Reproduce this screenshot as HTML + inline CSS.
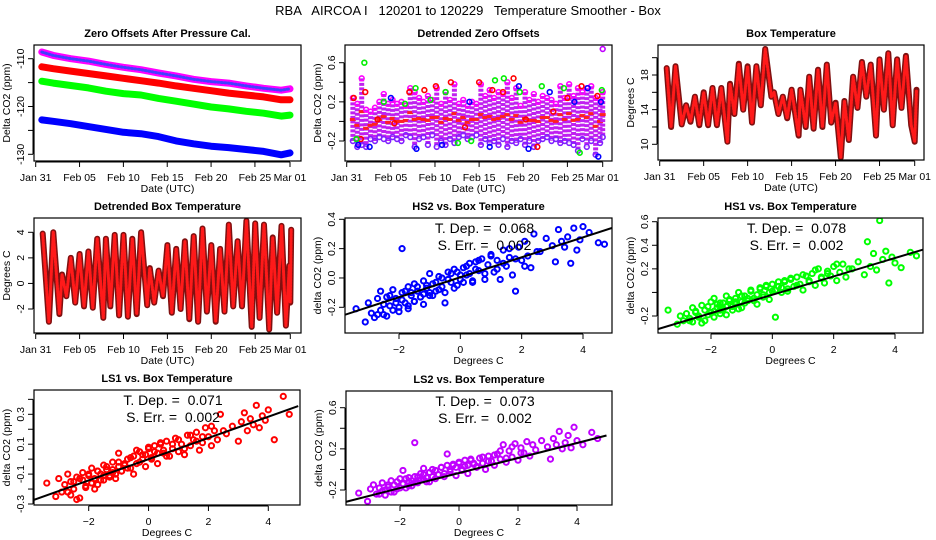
<!DOCTYPE html>
<html><head><meta charset="utf-8"><style>
html,body{margin:0;padding:0;background:#fff;}
svg{display:block;font-family:"Liberation Sans",sans-serif;}
</style></head><body>
<svg id="c" width="936" height="540" viewBox="0 0 936 540" xmlns="http://www.w3.org/2000/svg">
<rect width="936" height="540" fill="#fff"/>
<text x="468" y="15" font-size="13" text-anchor="middle" style="white-space:pre" xml:space="preserve">RBA   AIRCOA I   120201 to 120229   Temperature Smoother - Box</text>
</svg>
<script>
// ---------- data ----------
const dateTicks = [0,5,10,15,20,25,29];
const dateLabels = ["Jan 31","Feb 05","Feb 10","Feb 15","Feb 20","Feb 25","Mar 01"];
const offDays = [0.7,2,4,6,8,10,12,14,16,18,20,22,24,26,28,29];
const offPurple = [-108.6,-109.3,-110,-110.5,-111.2,-111.8,-112.3,-113,-113.6,-114.3,-114.8,-115.1,-115.7,-116.2,-116.6,-116.3];
const offRed = [-111.7,-112.1,-112.6,-113.1,-113.6,-114.1,-114.6,-115.1,-115.7,-116.2,-116.7,-117.2,-117.6,-118,-118.6,-118.6];
const offGreen = [-114.7,-115.1,-115.6,-116.1,-116.8,-117.3,-117.6,-118.3,-118.9,-119.5,-120.1,-120.5,-121,-121.4,-122,-121.8];
const offBlue = [-122.8,-123.1,-123.6,-124.2,-124.8,-125.4,-125.7,-126.3,-127.2,-127.8,-128.3,-128.6,-129,-129.4,-130.1,-129.7];
const detDays = [0.7,1.2,1.7,2.2,2.7,3.2,3.7,4.2,4.7,5.2,5.7,6.2,6.7,7.2,7.7,8.2,8.7,9.2,9.7,10.2,10.7,11.2,11.7,12.2,12.7,13.2,13.7,14.2,14.7,15.2,15.7,16.2,16.7,17.2,17.7,18.2,18.7,19.2,19.7,20.2,20.7,21.2,21.7,22.2,22.7,23.2,23.7,24.2,24.7,25.2,25.7,26.2,26.7,27.2,27.7,28.2,28.7,29.0];
const detHigh = [0.24,0.18,0.44,0.12,0.10,0.14,0.20,0.28,0.18,0.22,0.18,0.20,0.16,0.34,0.30,0.24,0.20,0.26,0.22,0.34,0.18,0.30,0.22,0.38,0.18,0.22,0.16,0.20,0.18,0.38,0.26,0.32,0.24,0.30,0.28,0.40,0.24,0.34,0.16,0.30,0.22,0.28,0.20,0.26,0.24,0.22,0.18,0.36,0.24,0.38,0.26,0.34,0.30,0.34,0.36,0.24,0.22,0.30];
const detLow = [-0.20,-0.26,-0.24,-0.26,-0.18,-0.20,-0.16,-0.18,-0.20,-0.16,-0.18,-0.20,-0.14,-0.16,-0.26,-0.18,-0.16,-0.24,-0.14,-0.26,-0.20,-0.24,-0.18,-0.22,-0.16,-0.14,-0.18,-0.16,-0.14,-0.24,-0.18,-0.22,-0.20,-0.24,-0.18,-0.26,-0.20,-0.22,-0.18,-0.24,-0.20,-0.26,-0.20,-0.18,-0.16,-0.20,-0.18,-0.22,-0.20,-0.22,-0.24,-0.30,-0.18,-0.26,-0.20,-0.34,-0.22,-0.16];
const detRedDays = [0.8,1.6,2.1,3.5,5.4,7.1,8.8,10.1,11.8,13.4,15,16.5,17.7,18.9,20.3,21.6,23.4,25,26.6,28.4];
const detRedVals = [0.24,-0.18,0.30,0.02,-0.02,0.30,0.32,0.36,0.40,-0.06,0.40,0.32,0.30,0.44,0.02,-0.26,0.10,0.24,0.36,0.26];
const detGreenDays = [1.1,2.0,4.2,6.6,7.8,9.5,11.2,12.6,14.1,16.8,17.8,19.6,22.1,24.6,26.4,28.9];
const detGreenVals = [-0.18,0.60,0.20,0.18,0.34,0.22,0.30,-0.22,-0.20,0.42,0.44,0.30,0.36,0.34,-0.32,0.32];
const detBlueDays = [1.3,2.6,5.0,7.9,10.8,13.9,16.2,19.5,20.6,23.0,25.8,27.3,28.5,28.8];
const detBlueVals = [-0.24,-0.26,0.24,-0.28,-0.24,0.20,-0.26,0.36,-0.28,0.30,0.20,0.34,-0.36,0.20];
const outDays = [29.0]; const outVals = [0.74];
const boxDays = [0.8,1.3,1.8,2.5,3.0,3.5,4.0,4.5,5.0,5.5,6.0,6.5,7.0,7.7,8.0,8.5,9.0,9.5,10.0,10.5,11.0,11.5,12.0,12.7,13.0,13.5,14.0,14.5,15.0,15.8,16.0,16.6,17.0,17.5,18.0,18.5,19.0,19.5,20.0,20.6,21.0,21.5,22.0,22.5,23.0,23.5,24.0,24.6,25.0,25.5,26.0,26.5,27.0,27.5,28.0,28.6,29.0,29.2];
const boxTemp = [18.8,12.0,19.0,12.3,14.5,12.6,15.5,12.2,16.0,12.2,16.5,12.2,16.5,10.3,17.0,13.5,19.3,14.0,19.0,12.5,19.0,14.5,21.0,15.5,16.0,13.5,15.5,13.0,16.3,11.0,16.3,12.0,17.8,11.8,18.6,12.0,19.2,12.5,14.8,8.5,15.0,10.5,17.8,14.2,19.5,15.5,19.2,11.0,19.8,14.0,20.5,12.2,19.8,14.2,20.2,12.2,10.3,16.3];
const dtempDays = [0.8,1.5,2.0,2.7,3.0,3.5,4.0,4.5,5.0,5.5,6.0,6.5,7.0,7.7,8.0,8.5,9.0,9.5,10.0,10.5,11.0,11.5,12.0,12.7,13.0,13.5,14.0,14.5,15.0,15.5,16.0,16.5,17.0,17.5,18.0,18.5,19.0,19.5,20.0,20.5,21.0,21.5,22.0,22.5,23.0,23.5,24.0,24.6,25.0,25.5,26.0,26.6,27.0,27.5,28.0,28.5,28.9,29.0,29.1];
const dtempVals = [3.9,-3.0,4.0,-2.4,0.7,-1.0,2.0,-1.5,2.3,-1.8,2.5,-1.9,3.5,-2.7,3.5,-1.8,3.8,-2.5,3.8,-2.6,3.5,-2.4,4.0,-1.7,1.2,-1.5,1.0,-1.0,3.0,-2.3,2.7,-2.0,3.3,-2.8,3.7,-3.0,4.3,-2.2,3.0,-3.0,2.7,-2.2,4.6,-1.8,3.3,-1.8,4.9,-3.4,4.7,-2.7,4.6,-3.6,3.6,-2.3,4.5,-3.3,1.4,-1.5,4.2];
const temps = [-3.4,-3.1,-3.0,-2.9,-2.8,-2.7,-2.6,-2.6,-2.5,-2.4,-2.3,-2.2,-2.2,-2.1,-2.0,-1.9,-1.9,-1.8,-1.7,-1.7,-1.6,-1.5,-1.5,-1.4,-1.3,-1.2,-1.2,-1.1,-1.0,-1.0,-0.9,-0.8,-0.7,-0.6,-0.5,-0.4,-0.3,-0.2,-0.1,0.0,0.1,0.2,0.3,0.4,0.5,0.6,0.7,0.8,0.9,1.0,1.1,1.2,1.3,1.4,1.5,1.6,1.7,1.8,1.9,2.0,2.1,2.2,2.3,2.4,2.6,2.8,3.0,3.1,3.2,3.3,3.4,3.5,3.6,3.7,3.8,3.9,4.0,4.2,4.5,4.7,
  -2.7,-2.5,-2.4,-2.3,-2.1,-2.0,-1.9,-1.8,-1.7,-1.6,-1.5,-1.4,-1.3,-1.2,-1.1,-1.0,-0.9,-0.8,-0.7,-0.6,-0.5,-0.4,-0.3,-0.2,-0.1,0.0,0.1,0.2,0.3,0.4,0.5,0.6,0.8,1.0,1.2,1.4,1.6,1.8,2.1,2.5];
const hs2Vals = [-0.21,-0.30,-0.17,-0.24,-0.27,-0.14,-0.22,-0.09,-0.25,-0.13,-0.19,-0.08,-0.22,-0.14,-0.20,-0.10,0.20,-0.17,-0.06,-0.19,-0.12,-0.04,-0.16,-0.09,-0.13,-0.02,-0.11,-0.07,0.03,-0.12,-0.04,-0.09,0.01,-0.06,-0.17,0.04,-0.03,0.06,-0.05,0.02,-0.03,0.08,0.03,-0.02,0.11,0.05,0.13,-0.01,0.09,0.16,0.04,0.12,-0.01,0.19,0.08,0.14,0.02,-0.09,0.21,0.12,0.25,0.15,0.07,0.30,0.18,0.27,0.22,0.11,0.33,0.25,0.21,0.28,0.10,0.34,0.19,0.26,0.35,0.31,0.24,0.23,
  -0.25,-0.18,-0.26,-0.12,-0.17,-0.23,-0.15,-0.09,-0.21,-0.10,-0.16,-0.06,-0.13,-0.18,-0.05,-0.10,-0.12,-0.03,-0.08,0.00,-0.10,-0.01,0.03,-0.07,0.04,-0.01,0.07,0.02,0.10,-0.03,0.06,0.12,0.03,0.15,0.06,0.10,0.20,0.13,0.08,0.18];
const hs1Vals = [-0.15,-0.27,-0.20,-0.24,-0.18,-0.22,-0.13,-0.25,-0.17,-0.21,-0.11,-0.24,-0.15,-0.19,-0.08,-0.16,-0.05,-0.13,-0.18,-0.09,-0.14,-0.03,-0.12,-0.07,-0.15,-0.05,-0.10,0.00,-0.08,-0.13,-0.03,-0.07,0.02,-0.05,-0.10,0.04,-0.02,0.06,-0.06,0.01,-0.21,0.05,0.00,0.09,0.03,0.11,0.05,0.13,0.07,0.02,0.14,0.09,0.16,0.06,0.20,0.12,0.08,0.18,0.14,0.22,0.10,0.17,0.24,0.13,0.20,0.26,0.15,0.43,0.22,0.33,0.19,0.61,0.28,0.35,0.08,0.30,0.25,0.21,0.34,0.31,
  -0.24,-0.16,-0.20,-0.26,-0.12,-0.17,-0.21,-0.10,-0.15,-0.09,-0.19,-0.06,-0.12,-0.08,-0.14,-0.03,-0.09,-0.05,0.01,-0.07,-0.02,0.03,-0.04,0.05,0.00,0.07,0.02,0.09,0.04,0.10,0.01,0.12,0.06,0.15,0.10,0.19,0.13,0.16,0.24,0.20];
const ls1Vals = [-0.16,-0.25,-0.13,-0.22,-0.17,-0.10,-0.24,-0.15,-0.20,-0.12,-0.26,-0.14,-0.09,-0.18,-0.11,-0.16,-0.06,-0.13,-0.08,-0.17,-0.10,-0.04,-0.14,-0.07,-0.11,-0.02,-0.09,-0.13,-0.05,0.04,-0.08,-0.03,-0.06,0.01,-0.10,0.06,-0.02,0.03,-0.05,0.08,0.00,0.05,-0.03,0.10,0.04,0.12,0.02,0.07,0.14,0.05,0.10,0.03,0.16,0.09,0.13,0.18,0.06,0.11,0.21,0.15,0.09,0.19,0.13,0.30,0.17,0.22,0.12,0.25,0.31,0.19,0.27,0.23,0.36,0.21,0.29,0.26,0.33,0.13,0.42,0.30,
  -0.22,-0.15,-0.27,-0.13,-0.19,-0.10,-0.16,-0.20,-0.08,-0.14,-0.11,-0.05,-0.12,-0.07,-0.10,-0.02,-0.08,-0.04,0.00,-0.06,0.02,-0.03,0.05,0.00,0.03,0.07,0.01,0.09,0.04,0.11,0.06,0.02,0.10,0.13,0.07,0.16,0.12,0.15,0.22,0.19];
const ls2Vals = [-0.23,-0.31,-0.19,-0.15,-0.24,-0.18,-0.21,-0.13,-0.25,-0.17,-0.11,-0.22,-0.15,-0.19,-0.09,-0.14,-0.01,-0.18,-0.08,-0.12,-0.16,0.26,-0.07,-0.13,-0.04,-0.10,0.01,-0.08,-0.12,-0.03,0.00,-0.09,-0.05,0.02,-0.07,0.15,-0.02,0.04,-0.06,0.06,0.00,0.03,-0.04,0.09,0.05,0.02,0.11,0.06,0.00,0.13,0.08,0.04,0.15,0.10,0.24,0.07,0.18,0.12,0.25,0.09,0.21,0.16,0.27,0.13,0.19,0.28,0.22,0.10,0.30,0.24,0.37,0.20,0.26,0.33,0.21,0.41,0.28,0.24,0.36,0.30,
  -0.24,-0.20,-0.15,-0.22,-0.12,-0.18,-0.14,-0.09,-0.16,-0.11,-0.13,-0.07,-0.10,-0.05,-0.12,-0.03,-0.07,-0.01,-0.05,0.02,-0.04,0.04,0.00,0.05,0.02,0.07,-0.01,0.09,0.04,0.10,0.06,0.03,0.12,0.08,0.14,0.18,0.11,0.22,0.16,0.24];
const fitSlopes = [0.068,0.078,0.071,0.073];
const fitInts = [0.005,-0.02,0.0,-0.035];
const fitStats = ["0.068","0.078","0.071","0.073"];
const fitErrs = ["0.002","0.002","0.002","0.002"];
const tempTicks = [-2,0,2,4];

// ---------- helpers ----------
const NS="http://www.w3.org/2000/svg";
const svg=document.getElementById('c');
function mk(tag,at,parent){const e=document.createElementNS(NS,tag);for(const k in at)e.setAttribute(k,at[k]);(parent||svg).appendChild(e);return e;}
function lin(d0,d1,p0,p1){return v=>p0+(v-d0)*(p1-p0)/(d1-d0);}
let clipN=0;
function panel(name,o){
  const g=mk('g',{});
  
  
  const id='cl'+(clipN++);
  const cp=mk('clipPath',{id:id},g);mk('rect',{x:o.l,y:o.t,width:o.r-o.l,height:o.b-o.t},cp);
  const t=mk('text',{x:(o.l+o.r)/2,y:o.t-8,'font-size':11,'font-weight':'bold','text-anchor':'middle'},g);t.textContent=o.title;
  
  
  const xa=mk('g',{},g);
  
  
  const xs=o.xs, ys=o.ys;
  mk('line',{x1:xs(o.xt[0]),x2:xs(o.xt[o.xt.length-1]),y1:o.b+1,y2:o.b+1,stroke:'#000'},xa);
  o.xt.forEach((v,i)=>{const x=xs(v);mk('line',{x1:x,x2:x,y1:o.b+1,y2:o.b+6,stroke:'#000'},xa);
    const tl=mk('text',{x:x,y:o.b+20,'font-size':10.5,'text-anchor':'middle'},xa);tl.textContent=o.xl[i];});
  const xt=mk('text',{x:(o.l+o.r)/2,y:o.b+31,'font-size':10.5,'text-anchor':'middle'},xa);xt.textContent=o.xlab;
  
  
  const ya=mk('g',{},g);
  
  
  mk('line',{x1:o.l-1,x2:o.l-1,y1:ys(o.yt[0]),y2:ys(o.yt[o.yt.length-1]),stroke:'#000'},ya);
  o.yt.forEach((v,i)=>{const y=ys(v);mk('line',{x1:o.l-1,x2:o.l-6,y1:y,y2:y,stroke:'#000'},ya);
    if(o.yl[i]!==""){const tl=mk('text',{x:o.l-10,y:y,'font-size':10.5,'text-anchor':'middle',transform:`rotate(-90 ${o.l-10} ${y})`},ya);tl.textContent=o.yl[i];}});
  const yc=(o.t+o.b)/2;
  const yt=mk('text',{x:o.l-24,y:yc,'font-size':10.5,'text-anchor':'middle',transform:`rotate(-90 ${o.l-24} ${yc})`},ya);yt.textContent=o.ylab;
  
  
  const plot=mk('g',{'clip-path':`url(#${id})`},g);
  mk('rect',{x:o.l,y:o.t,width:o.r-o.l,height:o.b-o.t,fill:'none',stroke:'#000','stroke-width':1.2},g);
  return plot;
}
function circles(p,xsArr,ysArr,xs,ys,col,name,r,sw){
  const n=Math.min(xsArr.length,ysArr.length);
  for(let i=0;i<n;i++){const c=mk('circle',{cx:xs(xsArr[i]),cy:ys(ysArr[i]),r:r||2.4,fill:'none',stroke:col,'stroke-width':sw||1.6},p);
    
    }
}
function pts(xa,ya,xs,ys){const n=Math.min(xa.length,ya.length);let s=[];for(let i=0;i<n;i++)s.push(xs(xa[i]).toFixed(1)+','+ys(ya[i]).toFixed(1));return s.join(' ');}
function thickLine(p,xa,ya,xs,ys,col,name,w,dash){
  const l=mk('polyline',{points:pts(xa,ya,xs,ys),fill:'none',stroke:col,'stroke-width':w,'stroke-linejoin':'round','stroke-linecap':'round'},p);
  if(dash)l.setAttribute('stroke-dasharray',dash);
  
  
}

// ---------- panel 1 ----------
{const xs=lin(0,29,35.7,290), ys=lin(-110,-130,58.7,154.3);
 const p=panel('zero-offsets-panel',{l:34,t:45,r:301,b:161,title:'Zero Offsets After Pressure Cal.',xs,ys,xt:dateTicks,xl:dateLabels,xlab:'Date (UTC)',yt:[-110,-115,-120,-125,-130],yl:['-110','','-120','','-130'],ylab:'Delta CO2 (ppm)'});
 [[offPurple,'#ff00ff','series-purple'],[offRed,'#ff0000','series-red'],[offGreen,'#00ff00','series-green'],[offBlue,'#0000ff','series-blue']].forEach(s=>{
   thickLine(p,offDays,s[0],xs,ys,s[1],s[2],7);
   if(s[2]==='series-purple')thickLine(p,offDays,s[0],xs,ys,'#4040ff','series-purple-texture',3,'1.5 2');});
}
// ---------- panel 2 ----------
{const xs=lin(0,29,346.7,602.7), ys=lin(0.6,-0.2,62.7,141);
 const p=panel('detrended-zero-offsets-panel',{l:345,t:45,r:612,b:161,title:'Detrended Zero Offsets',xs,ys,xt:dateTicks,xl:dateLabels,xlab:'Date (UTC)',yt:[0.6,0.4,0.2,0,-0.2],yl:['0.6','','0.2','','-0.2'],ylab:'Delta CO2 (ppm)'});
 const n=Math.min(detDays.length,detHigh.length,detLow.length);
 for(let i=0;i<n;i++){const x=xs(detDays[i]);
   const b=mk('line',{x1:x,x2:x,y1:ys(detHigh[i]),y2:ys(detLow[i]),stroke:'#c020f0','stroke-width':5,'stroke-dasharray':'3 1.5'},p);
   
   
   const m=mk('line',{x1:x-3,x2:x+3,y1:ys((detHigh[i]+detLow[i])/2),y2:ys((detHigh[i]+detLow[i])/2),stroke:'#ff2020','stroke-width':3},p);
   
   }
 circles(p,detDays,detHigh,xs,ys,'#ff00ff','offset-high');
 circles(p,detDays,detLow,xs,ys,'#8020ff','offset-low');
 circles(p,detRedDays,detRedVals,xs,ys,'#ff0000','offset-red');
 circles(p,detGreenDays,detGreenVals,xs,ys,'#00ee00','offset-green');
 circles(p,detBlueDays,detBlueVals,xs,ys,'#0000ff','offset-blue');
 circles(p,outDays,outVals,xs,ys,'#c000ff','offset-outlier');
}
// ---------- panel 3 ----------
{const xs=lin(0,29,659.7,914.7), ys=lin(18,10,75,144.3);
 const p=panel('box-temperature-panel',{l:658,t:45,r:924,b:160,title:'Box Temperature',xs,ys,xt:dateTicks,xl:dateLabels,xlab:'Date (UTC)',yt:[20,18,16,14,12,10],yl:['','18','','14','','10'],ylab:'Degrees C'});
 thickLine(p,boxDays,boxTemp,xs,ys,'#801010','box-temp-line',6);
 thickLine(p,boxDays,boxTemp,xs,ys,'#ff1a1a','box-temp-texture',3,'1.5 1.5');
}
// ---------- panel 4 ----------
{const xs=lin(0,29,35.7,290.3), ys=lin(4,-2,232.3,309);
 const p=panel('detrended-box-temp-panel',{l:34,t:218,r:301,b:333,title:'Detrended Box Temperature',xs,ys,xt:dateTicks,xl:dateLabels,xlab:'Date (UTC)',yt:[-2,0,2,4],yl:['-2','0','2','4'],ylab:'Degrees C'});
 thickLine(p,dtempDays,dtempVals,xs,ys,'#801010','detrended-temp-line',6);
 thickLine(p,dtempDays,dtempVals,xs,ys,'#ff1a1a','detrended-temp-texture',3,'1.5 1.5');
}
// ---------- scatter panels ----------
const scat=[
 {name:'hs2-scatter-panel',title:'HS2 vs. Box Temperature',l:345,t:218,r:612,b:333,xs:lin(-2,4,399,583),ys:lin(0.4,-0.2,219.3,307.3),yt:[0.4,0.2,0,-0.2],yl:['0.4','0.2','0.0','-0.2'],vals:hs2Vals,col:'#0000ff',k:0},
 {name:'hs1-scatter-panel',title:'HS1 vs. Box Temperature',l:658,t:218,r:923,b:333,xs:lin(-2,4,711,895),ys:lin(0.6,-0.2,221.7,316),yt:[0.6,0.4,0.2,0,-0.2],yl:['0.6','0.4','0.2','','-0.2'],vals:hs1Vals,col:'#00ff00',k:1},
 {name:'ls1-scatter-panel',title:'LS1 vs. Box Temperature',l:34,t:390,r:300,b:505,xs:lin(-2,4,88.7,268.3),ys:lin(0.3,-0.3,414.3,504),yt:[0.4,0.3,0.2,0.1,0,-0.1,-0.2,-0.3],yl:['','0.3','','0.1','','-0.1','','-0.3'],vals:ls1Vals,col:'#ff0000',k:2},
 {name:'ls2-scatter-panel',title:'LS2 vs. Box Temperature',l:346,t:391,r:612,b:505,xs:lin(-2,4,400,577),ys:lin(0.6,-0.2,407.7,490),yt:[0.6,0.4,0.2,0,-0.2],yl:['0.6','','0.2','','-0.2'],vals:ls2Vals,col:'#c000ff',k:3}
];
scat.forEach(s=>{
  const p=panel(s.name,{l:s.l,t:s.t,r:s.r,b:s.b,title:s.title,xs:s.xs,ys:s.ys,xt:tempTicks,xl:tempTicks.map(v=>v<0?'\u2212'+(-v):String(v)),xlab:'Degrees C',yt:s.yt,yl:s.yl,ylab:'delta CO2 (ppm)'});
  circles(p,temps,s.vals,s.xs,s.ys,s.col,'scatter-point',2.6,2);
  const x0=-4,x1=5;
  const fl=mk('line',{x1:s.xs(x0),y1:s.ys(fitInts[s.k]+fitSlopes[s.k]*x0),x2:s.xs(x1),y2:s.ys(fitInts[s.k]+fitSlopes[s.k]*x1),stroke:'#000','stroke-width':2},p);
  
  
  const cx=(s.l+s.r)/2+6;
  const t1=mk('text',{x:cx,y:s.t+15,'font-size':14,'text-anchor':'middle',style:'white-space:pre'});t1.textContent='T. Dep. =  '+fitStats[s.k];
  
  
  const t2=mk('text',{x:cx,y:s.t+32,'font-size':14,'text-anchor':'middle',style:'white-space:pre'});t2.textContent='S. Err. =  '+fitErrs[s.k];
  
  
});
</script>
</body></html>
